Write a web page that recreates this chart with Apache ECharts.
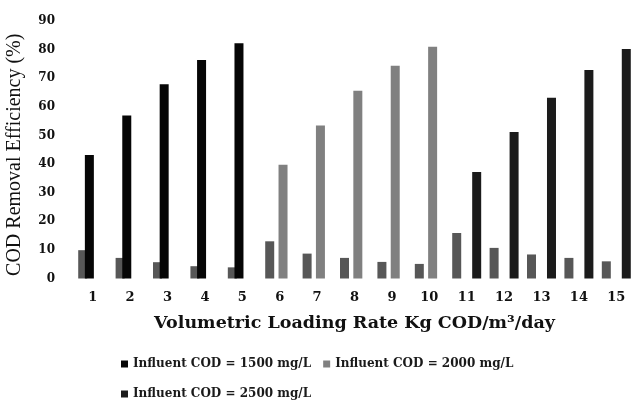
<!DOCTYPE html>
<html>
<head>
<meta charset="utf-8">
<script src="https://cdn.jsdelivr.net/npm/echarts@6/dist/echarts.min.js"></script>
<style>html,body{margin:0;padding:0;background:#fff;}#c{width:632px;height:401px;}</style>
</head>
<body>
<div id="c"></div>
<script>
const categories = ['1','2','3','4','5','6','7','8','9','10','11','12','13','14','15'];
const shortBars = [9.9, 7.2, 5.7, 4.3, 3.9, 13.0, 8.7, 7.2, 5.8, 5.1, 15.9, 10.7, 8.4, 7.2, 6.0];
const cod1500 = [43.2, 57.0, 67.9, 76.4, 82.2, null, null, null, null, null, null, null, null, null, null];
const cod2000 = [null, null, null, null, null, 39.8, 53.5, 65.6, 74.4, 81.0, null, null, null, null, null];
const cod2500 = [null, null, null, null, null, null, null, null, null, null, 37.2, 51.2, 63.2, 72.9, 80.2];
const seriesNames = ['Influent COD = 1500 mg/L', 'Influent COD = 2000 mg/L', 'Influent COD = 2500 mg/L'];
const yTicks = { min: 0, max: 90, interval: 10 };

const chart = echarts.init(document.getElementById('c'));
const serif = 'DejaVu Serif';
const barBase = { type: 'bar', barWidth: 9, barGap: '-26%', animation: false };
chart.setOption({
  backgroundColor: '#ffffff',
  animation: false,
  grid: { left: 74, right: -3, top: 21, bottom: 122.5, containLabel: false, outerBoundsMode: 'none' },
  legend: {
    data: seriesNames,
    left: 116, top: 350, width: 440,
    icon: 'rect', itemWidth: 7, itemHeight: 7, itemGap: 12,
    textStyle: { fontFamily: serif, fontSize: 12, fontWeight: 'bold', color: '#1a1a1a', lineHeight: 18 }
  },
  xAxis: {
    type: 'category', data: categories,
    axisLine: { show: false }, axisTick: { show: false },
    axisLabel: { margin: 13, fontFamily: serif, fontWeight: 'bold', fontSize: 13, color: '#111' },
    name: 'Volumetric Loading Rate Kg COD/m³/day',
    nameLocation: 'middle', nameGap: 36,
    nameTextStyle: { fontFamily: serif, fontWeight: 'bold', fontSize: 17.5, color: '#111' }
  },
  yAxis: {
    type: 'value', min: yTicks.min, max: yTicks.max, interval: yTicks.interval,
    axisLine: { show: false }, axisTick: { show: false }, splitLine: { show: false },
    axisLabel: { margin: 19, fontFamily: serif, fontWeight: 'bold', fontSize: 12, color: '#111' },
    name: 'COD Removal Efficiency (%)',
    nameLocation: 'middle', nameGap: 49, nameRotate: 90,
    nameTextStyle: { fontFamily: 'Liberation Serif', fontSize: 20, color: '#111', padding: [0, 10, 0, 0] }
  },
  series: [
    Object.assign({}, barBase, { name: 'effluent', data: shortBars, itemStyle: { color: '#575757' } }),
    Object.assign({}, barBase, { name: seriesNames[0], data: cod1500, itemStyle: { color: '#060606' } }),
    Object.assign({}, barBase, { name: seriesNames[1], data: cod2000, itemStyle: { color: '#808080' } }),
    Object.assign({}, barBase, { name: seriesNames[2], data: cod2500, itemStyle: { color: '#1b1b1b' } })
  ]
});
</script>
</body>
</html>
